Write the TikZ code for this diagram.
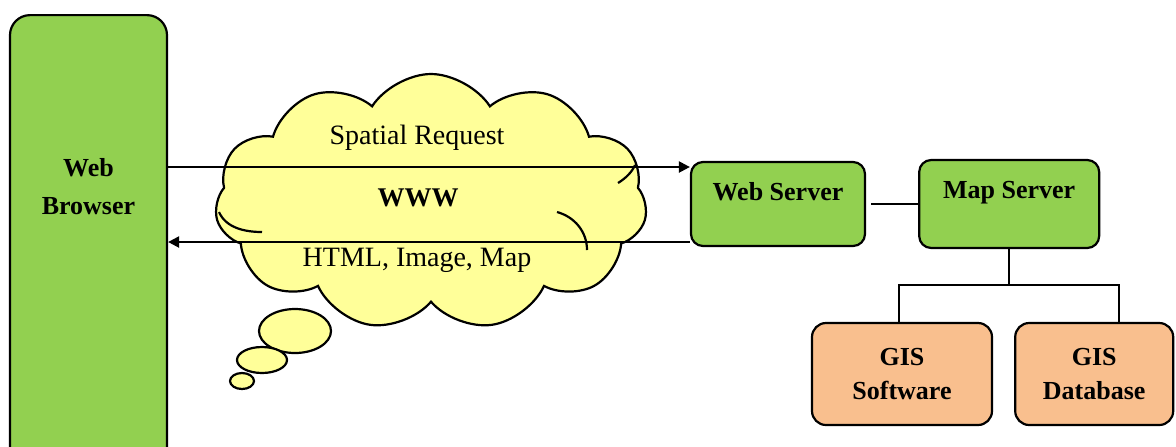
\documentclass[tikz,border=0pt]{standalone}
\usepackage{fontspec}
\setmainfont{Liberation Serif}
\usetikzlibrary{positioning,shapes.symbols,arrows.meta}
\definecolor{boxgreen}{RGB}{146,208,80}
\definecolor{cloudyellow}{RGB}{255,255,153}
\definecolor{gisorange}{RGB}{249,191,142}

\begin{document}
\begin{tikzpicture}[x=0.5pt, y=-0.5pt, line width=1.1pt,
        box/.style={rectangle, draw, rounded corners=6pt, fill=boxgreen, inner xsep=0pt, inner ysep=0pt,
            align=center, font=\fontsize{13}{19}\selectfont\bfseries},
        gisbox/.style={box, fill=gisorange, rounded corners=7pt, minimum height=51pt,
            font=\fontsize{13}{17}\selectfont\bfseries},
        cloudtext/.style={inner sep=0pt, font=\fontsize{14}{16}\selectfont},
        arr/.style={-{Triangle[length=5.5pt,width=5.5pt]}}]
    \useasboundingbox (0,0) rectangle (1176,446);
    \clip (0,0) rectangle (1176,446);

    % the internet cloud and its thought bubbles
    \node[cloud, cloud puffs=11, cloud puff arc=115, aspect=1.7, draw, fill=cloudyellow,
        minimum width=216pt, minimum height=128pt, inner sep=0pt] (www) at (431,202) {};
    \draw (219,212) .. controls (226,228) and (245,232) .. (262,232);
    \draw (557,212) .. controls (575,217) and (587,232) .. (587,250);
    \draw (618,183) .. controls (626,178) and (632,172) .. (635,165);
    \draw[fill=cloudyellow] (295,331) ellipse [x radius=18pt, y radius=11pt];
    \draw[fill=cloudyellow] (262,360) ellipse [x radius=12.5pt, y radius=6.5pt];
    \draw[fill=cloudyellow] (242,381) ellipse [x radius=6pt, y radius=4pt];
    \node[cloudtext] (req) at (417,138) {Spatial Request};
    \node[cloudtext, font=\fontsize{13.5}{16}\selectfont\bfseries] (wwwtext) at (418,198) {WWW};
    \node[cloudtext] (resp) at (417,260) {HTML, Image, Map};

    % clients and servers
    \node[box, anchor=north, rounded corners=10pt, minimum width=78.5pt, minimum height=230pt,
        text height=99.5pt, text depth=130.5pt] (browser) at (88.5,14) {Web\\Browser};
    \node[box, minimum width=87pt, text height=19pt, text depth=23pt] (web) at (778,204) {Web Server};
    \node[box, minimum width=90pt, text height=19pt, text depth=25pt, right=26pt of web] (map) {Map Server};
    \node[gisbox, minimum width=90pt] (soft) at (902,374) {GIS\\Software};
    \node[gisbox, minimum width=79pt, right=10.5pt of soft] (db) {GIS\\Database};

    % requests and responses
    \coordinate (reqy) at (0,167);
    \coordinate (respy) at (0,242);
    \draw[arr] (browser.east |- reqy) -- (web.west |- respy |- reqy);
    \draw[arr] (web.west |- respy) -- (browser.east |- respy);
    \draw[shorten <=2.5pt] (web.east) -- (map.west);
    \draw (map.south) -- ++(0,36) coordinate (split);
    \draw (soft.north -| 899,0) |- (split) -| ([xshift=12.5pt]db.north);
\end{tikzpicture}
\end{document}
